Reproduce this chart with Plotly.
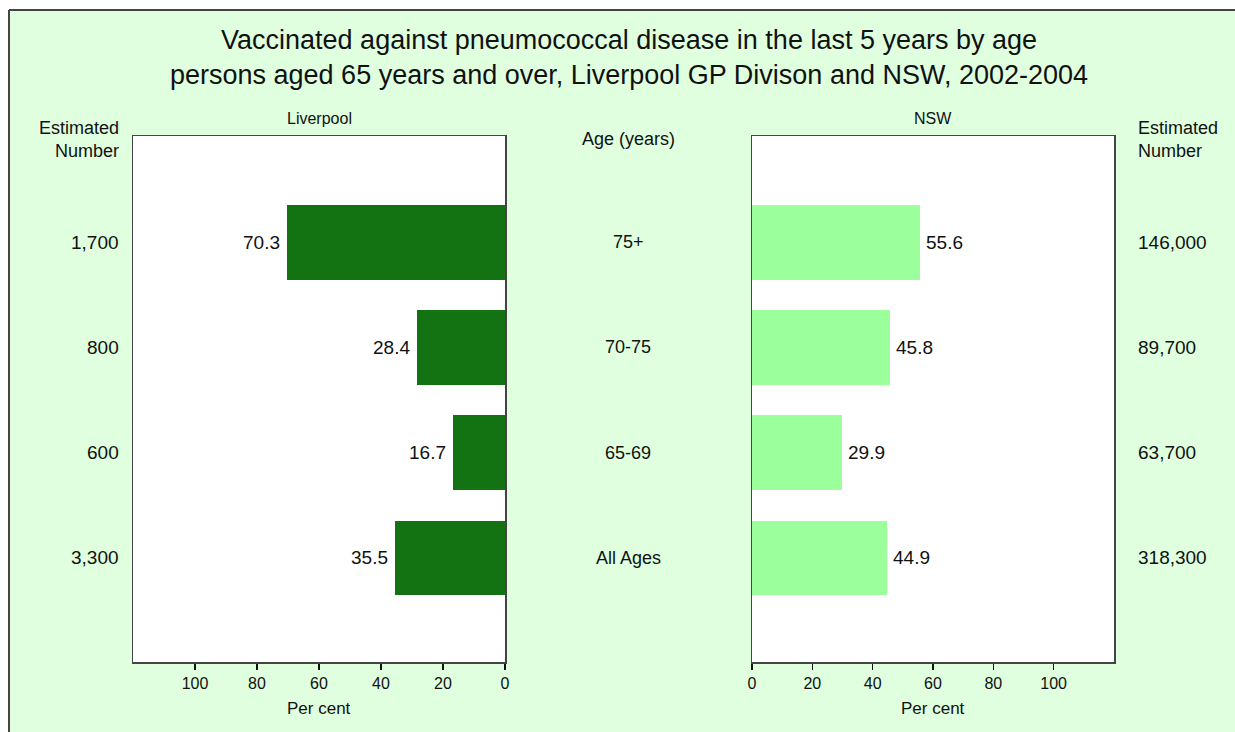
import plotly.graph_objects as go

ages = ["75+", "70-75", "65-69", "All Ages"]
liverpool_pct = [70.3, 28.4, 16.7, 35.5]
nsw_pct = [55.6, 45.8, 29.9, 44.9]
liverpool_est = ["1,700", "800", "600", "3,300"]
nsw_est = ["146,000", "89,700", "63,700", "318,300"]
pct_ticks = [0, 20, 40, 60, 80, 100]

W, H = 1235, 732
L, R, T, B = 133, 121, 136, 70
PW = W - L - R
PH = H - T - B

def px(x):
    return (x - L) / PW

def py(y):
    return (H - B - y) / PH

FONT = "Liberation Sans, Arial, sans-serif"
TXT = "#111111"
DARK = "#137313"
LIGHT = "#9BFF9B"
BG = "#DFFFDF"

fig = go.Figure()
fig.add_trace(go.Bar(
    y=ages, x=liverpool_pct, orientation="h", marker_color=DARK, marker_line_width=0,
    width=0.71, xaxis="x", yaxis="y", showlegend=False, hoverinfo="skip"))
fig.add_trace(go.Bar(
    y=ages, x=nsw_pct, orientation="h", marker_color=LIGHT, marker_line_width=0,
    width=0.71, xaxis="x2", yaxis="y2", showlegend=False, hoverinfo="skip"))

axis_common = dict(
    showgrid=False, zeroline=False, showline=True, linecolor="#444444", linewidth=1.5,
    mirror=True, ticks="outside", ticklen=6, tickwidth=1.5, tickcolor="#111111",
    tickfont=dict(size=16, color=TXT, family=FONT), tickvals=pct_ticks, fixedrange=True)

yaxis_common = dict(domain=[0, 1], range=[3.99, -1.01], showticklabels=False, ticks="",
                    showgrid=False, showline=True, linecolor="#444444", linewidth=1.5,
                    mirror=True, type="category", categoryarray=ages, fixedrange=True)

fig.update_layout(
    width=W, height=H,
    margin=dict(l=L, r=R, t=T, b=B, autoexpand=False),
    paper_bgcolor=BG, plot_bgcolor="white",
    font=dict(family=FONT, color=TXT),
    xaxis=dict(domain=[0, px(505)], range=[120, 0], anchor="y", **axis_common),
    xaxis2=dict(domain=[px(752), 1], range=[0, 120], anchor="y2", **axis_common),
    yaxis=dict(anchor="x", **yaxis_common),
    yaxis2=dict(anchor="x2", **yaxis_common),
    bargap=0,
)

ann = []
ann.append(dict(text="Vaccinated against pneumococcal disease in the last 5 years by age<br>"
                     "persons aged 65 years and over, Liverpool GP Divison and NSW, 2002-2004",
                x=px(629), y=py(57), xref="paper", yref="paper", showarrow=False,
                font=dict(size=27, color=TXT, family=FONT), xanchor="center", yanchor="middle"))
ann.append(dict(text="Liverpool", x=px(319), y=py(119), xref="paper", yref="paper",
                showarrow=False, font=dict(size=16, color=TXT), xanchor="center", yanchor="middle"))
ann.append(dict(text="NSW", x=px(933), y=py(119), xref="paper", yref="paper",
                showarrow=False, font=dict(size=16, color=TXT), xanchor="center", yanchor="middle"))
ann.append(dict(text="Age (years)", x=px(628), y=py(139), xref="paper", yref="paper",
                showarrow=False, font=dict(size=18, color=TXT), xanchor="center", yanchor="middle"))
ann.append(dict(text="Estimated<br>Number", x=px(121), y=py(139), xref="paper", yref="paper",
                showarrow=False, font=dict(size=18, color=TXT), xanchor="right", yanchor="middle",
                align="right"))
ann.append(dict(text="Estimated<br>Number", x=px(1136), y=py(139), xref="paper", yref="paper",
                showarrow=False, font=dict(size=18, color=TXT), xanchor="left", yanchor="middle",
                align="left"))
ann.append(dict(text="Per cent", x=px(319), y=py(708), xref="paper", yref="paper",
                showarrow=False, font=dict(size=17, color=TXT), xanchor="center", yanchor="middle"))
ann.append(dict(text="Per cent", x=px(933), y=py(708), xref="paper", yref="paper",
                showarrow=False, font=dict(size=17, color=TXT), xanchor="center", yanchor="middle"))
for a, le, ne, lv, nv in zip(ages, liverpool_est, nsw_est, liverpool_pct, nsw_pct):
    ann.append(dict(text=a, x=px(628), y=a, xref="paper", yref="y", showarrow=False,
                    font=dict(size=18, color=TXT), xanchor="center", yanchor="middle"))
    ann.append(dict(text=le, x=px(121), y=a, xref="paper", yref="y", showarrow=False,
                    font=dict(size=19, color=TXT), xanchor="right", yanchor="middle"))
    ann.append(dict(text=ne, x=px(1136), y=a, xref="paper", yref="y", showarrow=False,
                    font=dict(size=19, color=TXT), xanchor="left", yanchor="middle"))
    ann.append(dict(text=f"{lv:.1f}", x=lv, y=a, xref="x", yref="y", showarrow=False,
                    font=dict(size=19, color=TXT), xanchor="right", yanchor="middle", xshift=-5))
    ann.append(dict(text=f"{nv:.1f}", x=nv, y=a, xref="x2", yref="y2", showarrow=False,
                    font=dict(size=19, color=TXT), xanchor="left", yanchor="middle", xshift=4))
fig.update_layout(annotations=ann)

shapes = [
    dict(type="rect", xref="paper", yref="paper", x0=px(-10), x1=px(W + 10), y0=py(10), y1=py(-10),
         fillcolor="white", line_width=0, layer="above"),
    dict(type="rect", xref="paper", yref="paper", x0=px(-10), x1=px(9), y0=py(H + 10), y1=py(10),
         fillcolor="white", line_width=0, layer="above"),
    dict(type="line", xref="paper", yref="paper", x0=px(9), x1=px(W + 10), y0=py(10), y1=py(10),
         line=dict(color="#444444", width=2)),
    dict(type="line", xref="paper", yref="paper", x0=px(9), x1=px(9), y0=py(10), y1=py(H + 10),
         line=dict(color="#444444", width=2)),
]
fig.update_layout(shapes=shapes)

fig.write_html("out.html", config={"displayModeBar": False, "staticPlot": True},
               post_script="document.body.style.margin='0';document.body.style.overflow='hidden';")
